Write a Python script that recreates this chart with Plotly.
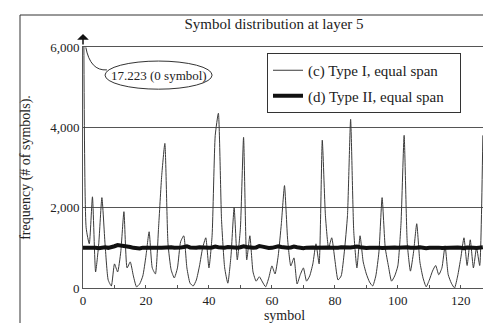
import plotly.graph_objects as go

# ---- data -------------------------------------------------------------
symbols = list(range(128))

type1_equal_span = [
    17223, 1500, 1100, 2270, 400, 1100, 2250, 1100, 200, 50, 600, 400, 900, 1900, 500, 650,
    300, 30, 100, 300, 800, 1400, 500, 350, 1500, 2800, 3600, 1100, 450, 250, 500, 1150,
    1300, 500, 120, 50, 200, 550, 1000, 1250, 500, 1300, 3800, 4350, 1700, 500, 120, 800,
    2000, 700, 1500, 3750, 700, 1300, 400, 170, 280, 150, 30, 250, 550, 350, 800, 1600,
    2550, 1200, 550, 750, 100, 330, 500, 170, 300, 600, 1100, 600, 3680, 1800, 1000, 1250,
    700, 200, 300, 900, 1800, 4200, 1400, 500, 1300, 650, 350, 150, 50, 300, 900, 2250,
    1000, 550, 170, 300, 550, 1600, 3800, 1100, 420, 900, 1600, 650, 250, 30, 200, 420,
    560, 330, 500, 1050, 330, 120, 0, 300, 750, 1250, 560, 1200, 500, 1000, 560, 3800,
]

type2_equal_span = [
    1000, 1005, 995, 1010, 1000, 990, 1005, 1015, 1000, 1010, 1040, 1070, 1060, 1040, 1050, 1020,
    1000, 995, 985, 1005, 1010, 1000, 1015, 1020, 1005, 1000, 1010, 1030, 1015, 1000, 995, 1005,
    1020, 1040, 1010, 995, 1000, 1015, 1005, 990, 1000, 1010, 1030, 1015, 1000, 1005, 1020, 1010,
    995, 1000, 1015, 1040, 1020, 1005, 1000, 1010, 1045, 1030, 1005, 995, 1000, 1015, 1040, 1020,
    1005, 1000, 1010, 1030, 1015, 1000, 990, 1005, 1020, 1010, 1000, 1005, 1015, 1030, 1010, 1000,
    995, 1005, 1015, 1005, 1000, 1010, 1020, 1035, 1015, 1000, 995, 1000, 1010, 1020, 1005, 995,
    1000, 1015, 1030, 1010, 1000, 1005, 1020, 1015, 1000, 995, 1005, 1015, 1000, 990, 1000, 1010,
    1020, 1005, 995, 1000, 1015, 1005, 1000, 1010, 1000, 990, 1005, 1015, 1000, 995, 1005, 1015,
]

y_ticks = [0, 2000, 4000, 6000]
x_ticks = [0, 20, 40, 60, 80, 100, 120]
X_MAX = 128
Y_MAX = 6000
peak_label = "17.223 (0 symbol)"

FONT = "Liberation Serif, Times New Roman, serif"

# ---- figure -----------------------------------------------------------
W, H = 491, 323
ML, MR, MT, MB = 75, 13, 39, 43
pw = W - ML - MR
ph = H - MT - MB

PAD = "\u00a0" * 3

fig = go.Figure()
fig.add_trace(go.Scatter(
    x=symbols, y=type1_equal_span, mode="lines",
    name="(c) Type I, equal span" + PAD, legendgroup="c",
    line=dict(color="#3a3a3a", width=1, shape="spline", smoothing=0.5),
))
fig.add_trace(go.Scatter(
    x=symbols, y=type2_equal_span, mode="lines",
    name="(d) Type II, equal span" + PAD, legendgroup="d",
    line=dict(color="#111111", width=4),
))

shapes = [
    # outer frame of the chart
    dict(type="rect", xref="paper", yref="paper",
         x0=(12 - ML) / pw, x1=(482 - ML) / pw,
         y0=(H - MB - 340) / ph, y1=(H - MB - 7) / ph,
         line=dict(color="#333", width=1), fillcolor="rgba(0,0,0,0)"),
    # callout ellipse
    dict(type="circle", xref="x", yref="y",
         x0=7.0, x1=41.0, y0=4950, y1=5650,
         line=dict(color="#333", width=1)),
    # curved leader line
    dict(type="path", xref="x", yref="y",
         path="M 0.9 5990 Q 2.3 5400 7.6 5430",
         line=dict(color="#333", width=1)),
]

annotations = [
    dict(x=24, y=5300, xref="x", yref="y", text=peak_label, showarrow=False,
         font=dict(family=FONT, size=13, color="#222")),
    # arrow marking the off-scale peak
    dict(x=symbols[0], y=min(type1_equal_span[0], Y_MAX), xref="x", yref="y",
         text="", showarrow=True, ax=0, ay=12, yshift=13,
         arrowhead=1, arrowsize=1.3, arrowwidth=1.5, arrowcolor="#111"),
]

fig.update_layout(
    width=W, height=H,
    margin=dict(l=ML, r=MR, t=MT, b=MB),
    paper_bgcolor="white", plot_bgcolor="white",
    font=dict(family=FONT, size=13, color="#222"),
    title=dict(text="Symbol distribution at layer 5", x=266 / W, xanchor="center",
               y=1 - 16 / H, yanchor="middle", font=dict(family=FONT, size=15)),
    showlegend=True,
    legend=dict(x=(259 - ML) / pw, y=(H - MB - 45) / ph, xanchor="left", yanchor="top",
                bgcolor="white", bordercolor="#333", borderwidth=1,
                font=dict(family=FONT, size=15), tracegroupgap=3,
                itemwidth=30),
    xaxis=dict(range=[0, X_MAX], tickvals=x_ticks, showgrid=False, zeroline=False,
               showline=True, linecolor="#555", linewidth=1, mirror=True,
               ticks="inside", ticklen=3, tickcolor="#555",
               minor=dict(dtick=10, ticks="inside", ticklen=3, tickcolor="#555"),
               tickfont=dict(family=FONT, size=13),
               title=dict(text="symbol", standoff=0, font=dict(family=FONT, size=14))),
    yaxis=dict(range=[0, Y_MAX], tickvals=y_ticks, tickformat=",d",
               showgrid=True, gridcolor="#555", gridwidth=1, zeroline=False,
               showline=True, linecolor="#555", linewidth=1, mirror=True,
               ticks="", tickfont=dict(family=FONT, size=13),
               title=dict(text="frequency (# of symbols).", standoff=16,
                          font=dict(family=FONT, size=14))),
    shapes=shapes,
    annotations=annotations,
)

fig.write_html("out.html")
